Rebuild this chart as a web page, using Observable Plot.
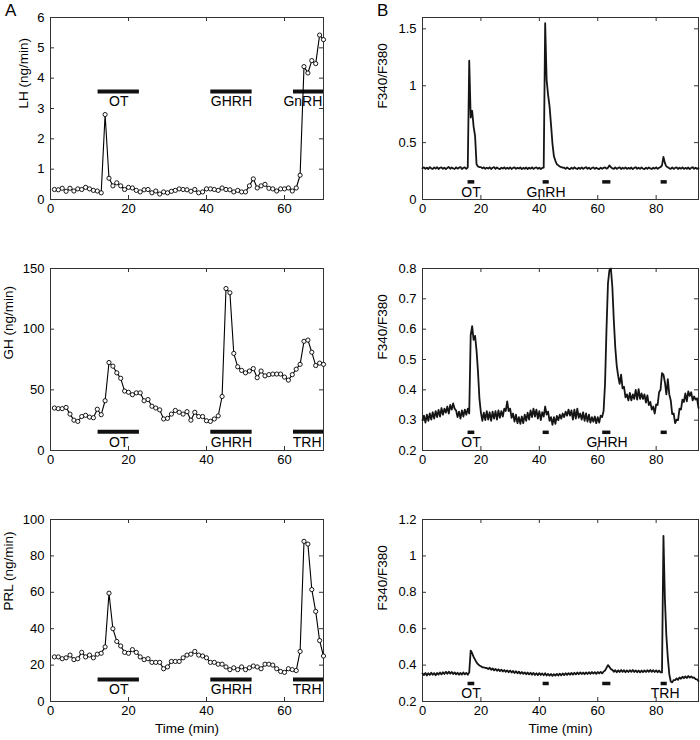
<!DOCTYPE html>
<html>
<head>
<meta charset="utf-8">
<script src="https://cdn.jsdelivr.net/npm/d3@7"></script>
<script src="https://cdn.jsdelivr.net/npm/@observablehq/plot@0.6"></script>
<style>
  html, body { margin: 0; padding: 0; background: #fff; }
  #fig { position: relative; width: 700px; height: 740px; font-family: "Liberation Sans", Arial, Helvetica, sans-serif; color: #000; }
  .plabel { position: absolute; font-size: 17px; line-height: 17px; }
</style>
</head>
<body>
<div id="fig"></div>
<script>
// ---------------- Data ----------------
// Column A: secretion (one sample per minute, t = 1..70)
const secretionMinutes = d3.range(1, 71);
const lhValues = [0.33,0.32,0.37,0.27,0.37,0.28,0.35,0.33,0.40,0.35,
  0.30,0.28,0.22,2.80,0.70,0.45,0.55,0.45,0.33,0.40,
  0.38,0.30,0.25,0.32,0.33,0.22,0.28,0.18,0.25,0.22,
  0.27,0.30,0.35,0.33,0.32,0.27,0.33,0.22,0.25,0.35,
  0.35,0.33,0.30,0.38,0.33,0.32,0.25,0.30,0.25,0.25,
  0.45,0.68,0.38,0.45,0.50,0.37,0.35,0.28,0.35,0.35,
  0.38,0.28,0.38,0.80,4.38,4.17,4.58,4.48,5.42,5.27];
const ghValues = [35,34.5,34.5,35.5,30,25,24,28,29,27.5,
  27,34,29.5,41,72.5,69.5,64,59.5,49,48,
  46,47.5,47.5,41,42,36.5,35,33.5,26,26.5,
  30,33,31.5,30,32,25,31.5,28,28,24.5,
  24,26,28.5,44.5,133.5,130,80,69,66,64,
  65.5,67.5,60,65.5,61.5,62.5,63,63,63,60.5,
  58,62.5,67,71,90,91,81,70,72,71];
const prlValues = [24.5,24.5,23.5,24,25.5,23,23.5,27,24.5,25.5,
  24,26,26.5,30,59.5,40,33,30.5,27,26.5,
  28.5,27,24.5,23,23.5,21.5,21.5,21.5,18,19,
  22,22,22,24,25.5,26,27.5,25.5,25,24,
  21.5,21.5,20.5,20.5,19,17.5,18.5,17.5,19,17.5,
  18.5,19.5,19,18,20.5,20.5,20,18,16.5,16,
  18,17.5,17,27.5,88,86.5,61.5,49.5,33.5,25];

// Column B: calcium imaging ratio (sampled every 0.5 min, t = 0..94.5)
const ratioMinutes = d3.range(0, 190).map(i => i / 2);
const ratioLH = [
  0.275,0.283,0.269,0.28,0.268,0.285,0.274,0.268,0.282,0.271,
  0.284,0.268,0.279,0.283,0.27,0.28,0.267,0.278,0.286,0.27,
  0.282,0.273,0.268,0.283,0.271,0.28,0.285,0.268,0.278,0.282,
  0.27,0.283,
  1.22,0.72,0.78,0.64,0.56,0.31,0.29,0.285,
  0.285,0.274,0.283,0.27,0.28,0.272,0.283,0.268,0.279,0.284,
  0.27,0.281,0.273,0.267,0.28,0.272,0.283,0.269,0.279,0.27,
  0.282,0.268,0.278,0.283,0.269,0.279,0.272,0.282,0.267,0.278,
  0.27,0.281,0.268,0.279,0.271,0.283,0.269,0.278,0.282,0.27,
  0.279,0.268,0.277,
  0.28,1.55,1.05,0.92,0.82,0.66,0.49,0.38,0.34,0.31,0.30,0.29,0.285,0.28,
  0.279,0.269,0.282,0.271,0.267,0.28,0.27,0.283,0.273,0.268,
  0.279,0.27,0.282,0.269,0.278,0.284,0.27,0.279,0.267,0.277,
  0.282,0.269,0.279,0.271,0.267,0.28,0.27,0.278,0.283,0.271,
  0.28,
  0.30,
  0.284,0.274,0.27,0.282,0.269,0.278,0.283,0.268,0.279,0.271,
  0.282,0.269,0.278,0.27,0.281,0.267,0.278,0.284,0.27,0.279,
  0.269,0.282,0.271,0.267,0.279,0.27,0.282,0.273,0.268,0.28,
  0.271,0.283,0.269,0.279,0.285,
  0.30,0.375,0.32,0.29,
  0.284,0.274,0.27,0.282,0.269,0.278,0.283,0.268,0.279,0.271,
  0.282,0.269,0.278,0.27,0.281,0.267,0.278,0.284,0.27,0.279,
  0.269,0.276];
const ratioGH = [
  0.30,0.315,0.292,0.318,0.298,0.322,0.302,0.326,0.305,0.33,
  0.31,0.334,0.312,0.34,0.318,0.338,0.325,0.345,0.322,0.35,
  0.335,0.355,0.338,0.332,0.31,0.328,0.305,0.332,0.312,0.335,
  0.318,0.338,0.322,0.58,0.61,0.565,0.578,0.53,0.46,0.37,
  0.325,0.298,0.325,0.30,0.33,0.302,0.326,0.298,0.328,0.305,
  0.33,0.302,0.332,0.308,0.33,0.312,0.338,0.33,0.362,0.33,
  0.338,0.308,0.322,0.295,0.318,0.29,0.31,0.288,0.312,0.29,
  0.318,0.298,0.325,0.302,0.332,0.31,0.338,0.312,0.335,0.305,
  0.33,0.30,0.326,0.312,0.345,0.318,0.328,0.298,0.31,0.285,
  0.31,0.288,0.314,0.30,0.318,0.305,0.322,0.31,0.328,0.315,
  0.335,0.315,0.332,0.302,0.335,0.305,0.338,0.308,0.322,0.302,
  0.326,0.298,0.322,0.295,0.318,0.292,0.31,0.295,0.312,0.29,
  0.31,0.292,0.315,0.31,0.33,0.42,0.60,0.75,0.795,0.80,
  0.74,0.63,0.54,0.48,0.445,0.42,0.45,0.405,0.41,0.375,
  0.385,0.365,0.39,0.365,0.385,0.37,0.40,0.368,0.402,0.37,
  0.388,0.37,0.385,0.358,0.382,0.35,0.36,0.335,0.345,0.322,
  0.352,0.35,0.392,0.40,0.455,0.45,0.425,0.385,0.435,0.385,
  0.365,0.32,0.322,0.29,0.302,0.30,0.338,0.335,0.368,0.36,
  0.388,0.362,0.395,0.38,0.392,0.365,0.378,0.368,0.372,0.34];
const ratioPRL = [
  0.354,0.345,0.357,0.343,0.355,0.346,0.358,0.347,0.356,0.344,
  0.357,0.348,0.359,0.349,0.361,0.351,0.363,0.352,0.364,0.353,
  0.362,0.351,0.36,0.349,0.358,0.347,0.357,0.348,0.359,0.349,
  0.357,0.347,0.36,0.48,0.465,0.445,0.43,0.415,0.405,0.398,
  0.394,0.388,0.387,0.385,0.384,0.378,0.386,0.374,0.382,0.371,
  0.379,0.369,0.377,0.367,0.375,0.365,0.373,0.363,0.371,0.361,
  0.37,0.359,0.368,0.357,0.366,0.355,0.364,0.353,0.362,0.352,
  0.36,0.35,0.359,0.349,0.358,0.347,0.357,0.346,0.355,0.345,
  0.356,0.346,0.354,0.344,0.355,0.343,0.352,0.342,0.351,0.341,
  0.35,0.342,0.352,0.343,0.353,0.344,0.354,0.345,0.355,0.346,
  0.356,0.347,0.357,0.348,0.358,0.349,0.359,0.35,0.36,0.351,
  0.359,0.35,0.36,0.351,0.361,0.352,0.362,0.353,0.361,0.352,
  0.362,0.354,0.363,0.355,0.364,0.37,0.385,0.40,0.39,0.378,
  0.374,0.363,0.372,0.361,0.371,0.362,0.373,0.363,0.372,0.361,
  0.371,0.362,0.372,0.363,0.373,0.362,0.371,0.361,0.37,0.36,
  0.37,0.361,0.371,0.362,0.372,0.363,0.373,0.363,0.372,0.362,
  0.371,0.361,0.37,0.36,0.36,1.11,0.76,0.56,0.44,0.35,
  0.31,0.305,0.318,0.317,0.327,0.319,0.332,0.325,0.336,0.328,
  0.338,0.329,0.34,0.331,0.338,0.33,0.332,0.323,0.322,0.312];

// Stimulus application periods
const secStimStart = [12.2, 41.1, 62.3];
const secStimEnd = [22.8, 51.7, 70];
const lhStimLabels = ["OT", "GHRH", "GnRH"];
const ghStimLabels = ["OT", "GHRH", "TRH"];
const prlStimLabels = ["OT", "GHRH", "TRH"];
const lhStimLabelX = [17.5, 46.4, 64.7];
const ghStimLabelX = [17.5, 46.4, 65.8];

const caStimStart = [15.6, 41.3, 61.7, 81.7];
const caStimEnd = [17.9, 43.4, 64.5, 83.8];
const caLHLabels = ["OT", "GnRH", "", ""];
const caGHLabels = ["OT", "", "GHRH", ""];
const caPRLLabels = ["OT", "", "", "TRH"];
const caStimLabelX = [16.6, 42.3, 63.2, 83.1];

// Axes
const secXTicks = [0, 20, 40, 60];
const caXTicks = [0, 20, 40, 60, 80];
const lhYTicks = [0, 1, 2, 3, 4, 5, 6];
const ghYTicks = [0, 50, 100, 150];
const prlYTicks = [0, 20, 40, 60, 80, 100];
const caLHYTicks = [0, 0.5, 1, 1.5];
const caGHYTicks = [0.2, 0.3, 0.4, 0.5, 0.6, 0.7, 0.8];
const caPRLYTicks = [0.2, 0.4, 0.6, 0.8, 1, 1.2];

// ---------------- Layout ----------------
const fig = document.getElementById("fig");
const W = 350, FH = 182, MT = 5, MB = 39;
const cols = { A: { left: 0, ml: 50, mr: 27 }, B: { left: 350, ml: 72, mr: 2 } };
const rowTops = [17, 268, 519];
const axisColor = "#333";

function panel(col, row, o) {
  const c = cols[col];
  const FW = W - c.ml - c.mr;
  const fmt = d => String(d);
  const marks = [
    Plot.frame({ stroke: axisColor }),
    Plot.tickX(o.xTicks, { x: d => d, insetTop: FH - 4, stroke: axisColor }),
    Plot.tickX(o.xTicks, { x: d => d, insetBottom: FH - 4, stroke: axisColor }),
    Plot.tickY(o.yTicks, { y: d => d, insetRight: FW - 4, stroke: axisColor }),
    Plot.tickY(o.yTicks, { y: d => d, insetLeft: FW - 4, stroke: axisColor }),
    Plot.axisX({ ticks: o.xTicks, tickSize: 0, tickPadding: 4, label: null, tickFormat: fmt, fontSize: 13 }),
    Plot.axisY({ ticks: o.yTicks, tickSize: 0, tickPadding: 6, label: null, tickFormat: fmt, fontSize: 13 }),
    ...o.marks,
    Plot.text([o.ylabel], { frameAnchor: "left", rotate: -90, dx: o.ylabelDx, text: d => d, fill: "#000", fontSize: 13.5 })
  ];
  if (o.xlabel) marks.push(Plot.text([o.xlabel], { frameAnchor: "bottom", dy: 31, text: d => d, fill: "#000", fontSize: 13.5 }));
  const svg = Plot.plot({
    width: W, height: MT + FH + MB,
    marginLeft: c.ml, marginRight: c.mr, marginTop: MT, marginBottom: MB,
    x: { domain: o.xDomain },
    y: { domain: o.yDomain },
    style: { fontFamily: '"Liberation Sans", Arial, Helvetica, sans-serif', fontSize: "13px", color: "#000", background: "transparent", overflow: "visible" },
    marks
  });
  svg.style.position = "absolute";
  svg.style.left = c.left + "px";
  svg.style.top = (rowTops[row] - MT) + "px";
  fig.appendChild(svg);
}

function secretionMarks(values, labels, labelX, level) {
  const data = secretionMinutes.map((t, i) => ({ t, v: values[i] }));
  const stim = labels.map((l, i) => ({ label: l, x1: secStimStart[i], x2: secStimEnd[i], lx: labelX[i], y: level }));
  return [
    Plot.ruleY(stim, { y: "y", x1: "x1", x2: "x2", stroke: "#111", strokeWidth: 4 }),
    Plot.text(stim, { x: "lx", y: "y", text: "label", lineAnchor: "top", dy: 5, fill: "#000", fontSize: 14 }),
    Plot.line(data, { x: "t", y: "v", stroke: "#000", strokeWidth: 1.1 }),
    Plot.dot(data, { x: "t", y: "v", r: 2.1, fill: "#fff", stroke: "#000", strokeWidth: 0.9 })
  ];
}

function calciumMarks(values, labels, level, width) {
  const data = ratioMinutes.map((t, i) => ({ t, v: values[i] }));
  const stim = labels.map((l, i) => ({ label: l, x1: caStimStart[i], x2: caStimEnd[i], lx: caStimLabelX[i], y: level }));
  return [
    Plot.line(data, { x: "t", y: "v", stroke: "#151515", strokeWidth: width, strokeLinejoin: "round" }),
    Plot.ruleY(stim, { y: "y", x1: "x1", x2: "x2", stroke: "#111", strokeWidth: 3.5 }),
    Plot.text(stim.filter(d => d.label), { x: "lx", y: "y", text: "label", lineAnchor: "top", dy: 5, fill: "#000", fontSize: 14 })
  ];
}

// Column A
panel("A", 0, { xDomain: [0, 70], xTicks: secXTicks, yDomain: [0, 6], yTicks: lhYTicks,
  ylabel: "LH (ng/min)", ylabelDx: -27, marks: secretionMarks(lhValues, lhStimLabels, lhStimLabelX, 3.56) });
panel("A", 1, { xDomain: [0, 70], xTicks: secXTicks, yDomain: [0, 150], yTicks: ghYTicks,
  ylabel: "GH (ng/min)", ylabelDx: -42, marks: secretionMarks(ghValues, ghStimLabels, ghStimLabelX, 15.5) });
panel("A", 2, { xDomain: [0, 70], xTicks: secXTicks, yDomain: [0, 100], yTicks: prlYTicks,
  ylabel: "PRL (ng/min)", ylabelDx: -42, xlabel: "Time (min)", marks: secretionMarks(prlValues, prlStimLabels, ghStimLabelX, 12.1) });

// Column B
panel("B", 0, { xDomain: [0, 94.5], xTicks: caXTicks, yDomain: [0, 1.6], yTicks: caLHYTicks,
  ylabel: "F340/F380", ylabelDx: -40, marks: calciumMarks(ratioLH, caLHLabels, 0.155, 1.8) });
panel("B", 1, { xDomain: [0, 94.5], xTicks: caXTicks, yDomain: [0.2, 0.8], yTicks: caGHYTicks,
  ylabel: "F340/F380", ylabelDx: -40, marks: calciumMarks(ratioGH, caGHLabels, 0.26, 1.8) });
panel("B", 2, { xDomain: [0, 94.5], xTicks: caXTicks, yDomain: [0.2, 1.2], yTicks: caPRLYTicks,
  ylabel: "F340/F380", ylabelDx: -40, xlabel: "Time (min)", marks: calciumMarks(ratioPRL, caPRLLabels, 0.299, 1.8) });

// Panel letters
for (const [txt, x] of [["A", 5], ["B", 377]]) {
  const d = document.createElement("div");
  d.className = "plabel";
  d.textContent = txt;
  d.style.left = x + "px";
  d.style.top = "2px";
  fig.appendChild(d);
}
</script>
</body>
</html>
